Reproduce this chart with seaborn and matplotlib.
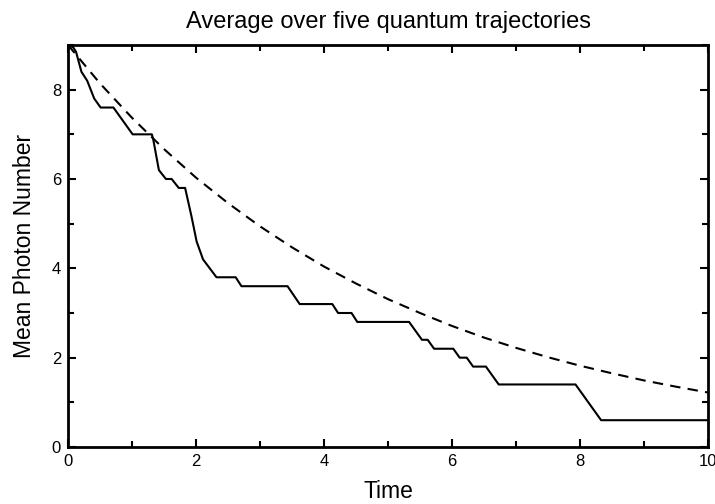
import numpy as np
import pandas as pd
import matplotlib
matplotlib.use("Agg")
import matplotlib.pyplot as plt
import seaborn as sns
from matplotlib.ticker import MultipleLocator

# Dashed curve (ensemble average)
t_avg = [0.0, 0.5, 1.0, 1.5, 2.0, 2.5, 3.0, 3.5, 4.0, 4.5, 5.0,
         5.5, 6.0, 6.5, 7.0, 7.5, 8.0, 8.5, 9.0, 9.5, 10.0]
n_avg = [9.00, 8.14, 7.37, 6.67, 6.03, 5.46, 4.94, 4.47, 4.04, 3.66, 3.31,
         3.00, 2.71, 2.45, 2.22, 2.01, 1.82, 1.65, 1.49, 1.35, 1.22]

# Solid curve (average over five trajectories)
t_traj = [0.0, 0.08, 0.125, 0.21, 0.30, 0.41, 0.51, 0.71, 1.01, 1.31, 1.33,
          1.42, 1.53, 1.62, 1.73, 1.83, 1.93, 2.01, 2.11, 2.32, 2.62, 2.71,
          3.43, 3.62, 4.13, 4.22, 4.43, 4.52, 5.33, 5.53, 5.62, 5.72, 6.02,
          6.12, 6.23, 6.33, 6.53, 6.73, 7.93, 8.33, 10.0]
n_traj = [9.0, 8.95, 8.85, 8.4, 8.2, 7.8, 7.6, 7.6, 7.0, 7.0, 6.9,
          6.2, 6.0, 6.0, 5.8, 5.8, 5.16, 4.6, 4.2, 3.8, 3.8, 3.6,
          3.6, 3.2, 3.2, 3.0, 3.0, 2.8, 2.8, 2.4, 2.4, 2.2, 2.2,
          2.0, 2.0, 1.8, 1.8, 1.4, 1.4, 0.6, 0.6]

sns.set_style("ticks")
plt.rcParams['font.family'] = ['Liberation Sans', 'DejaVu Sans']
plt.rcParams['text.color'] = 'black'
plt.rcParams['axes.labelcolor'] = 'black'

fig = plt.figure(figsize=(7.15, 5.04), dpi=100)
ax = fig.add_axes([68/715, 1-447/504, (708-68)/715, (447-45)/504])

df_avg = pd.DataFrame({"t": t_avg, "n": n_avg})
df_traj = pd.DataFrame({"t": t_traj, "n": n_traj})

sns.lineplot(data=df_traj, x="t", y="n", ax=ax, color="black", lw=1.5,
             sort=False, estimator=None)
sns.lineplot(data=df_avg, x="t", y="n", ax=ax, color="black", lw=1.5,
             sort=False, estimator=None, linestyle=(0, (5, 3.5)))

ax.set_xlim(0, 10)
ax.set_ylim(0, 9)
ax.xaxis.set_major_locator(MultipleLocator(2))
ax.xaxis.set_minor_locator(MultipleLocator(1))
ax.yaxis.set_major_locator(MultipleLocator(2))
ax.yaxis.set_minor_locator(MultipleLocator(1))
ax.tick_params(which="both", direction="in", top=True, right=True,
               width=1.5, labelsize=12, colors="black")
ax.tick_params(which="major", length=6, pad=5)
ax.tick_params(which="minor", length=4)
for s in ax.spines.values():
    s.set_linewidth(2)
    s.set_color("black")

ax.set_xlabel("Time", fontsize=16.5, labelpad=8, color="black")
ax.set_ylabel("Mean Photon Number", fontsize=16.5, labelpad=11, color="black")
ax.set_title("Average over five quantum trajectories", fontsize=17, pad=12,
             color="black")

fig.savefig("out.png", dpi=100)
